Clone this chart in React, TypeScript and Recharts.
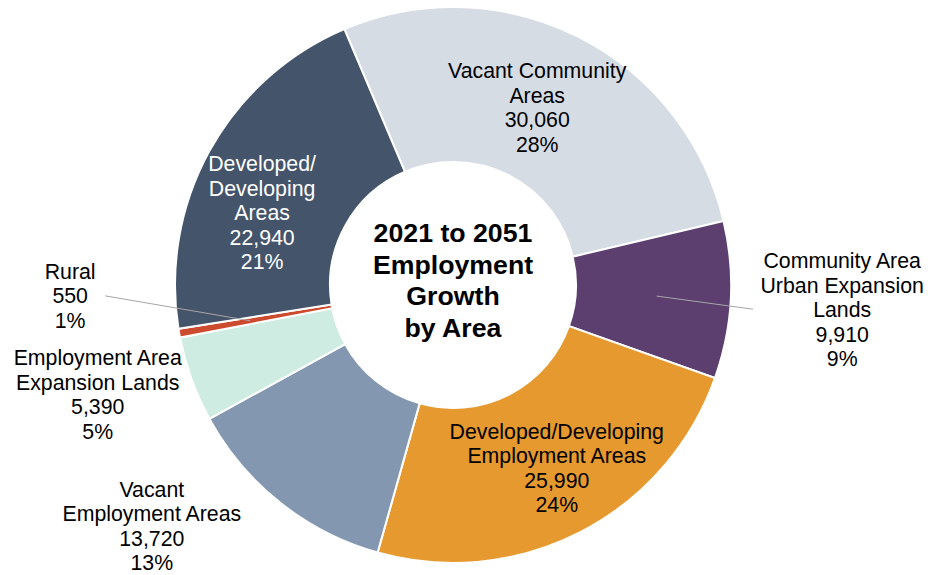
import * as React from "react";
import { PieChart, Pie, Cell } from "recharts";

// Slices in clockwise order starting at the top
const AREAS = [
  "Vacant Community Areas",
  "Community Area Urban Expansion Lands",
  "Developed/Developing Employment Areas",
  "Vacant Employment Areas",
  "Employment Area Expansion Lands",
  "Rural",
  "Developed/Developing Areas",
];
const JOBS = [30060, 9910, 25990, 13720, 5390, 550, 22940];
const PERCENTS = ["28%", "9%", "24%", "13%", "5%", "1%", "21%"];
const LABEL_LINES = [
  ["Vacant Community", "Areas"],
  ["Community Area", "Urban Expansion", "Lands"],
  ["Developed/Developing", "Employment Areas"],
  ["Vacant", "Employment Areas"],
  ["Employment Area", "Expansion Lands"],
  ["Rural"],
  ["Developed/", "Developing", "Areas"],
];
const TITLE_LINES = ["2021 to 2051", "Employment", "Growth", "by Area"];

const COLORS = ["#d6dce4", "#5c3f6e", "#e6992f", "#8497b0", "#cfece3", "#cc4a2e", "#44546a"];

// label placement: polar radius + angle shift from the slice mid angle
const LABEL_LAYOUT = [
  { r: 196, shift: 1.4, color: "#000" },
  { r: 390, shift: -0.6, color: "#000", line: { r1: 204, r2: 301, a2: -1.5 } },
  { r: 211, shift: 2.1, color: "#000" },
  { r: 386, shift: -12.8, color: "#000" },
  { r: 372, shift: -2.6, color: "#000" },
  { r: 383, shift: -8.3, color: "#000", line: { r1: 206, r2: 348, a2: -8.2 } },
  { r: 204, shift: 8.3, color: "#fff" },
];

const FONT = "'Liberation Sans', Arial, Helvetica, sans-serif";
const LINE_H = 24.5;
const RAD = Math.PI / 180;

const fmt = (v: number) => v.toLocaleString("en-US");

const polar = (cx: number, cy: number, r: number, angle: number) => ({
  x: cx + r * Math.cos(-angle * RAD),
  y: cy + r * Math.sin(-angle * RAD),
});

const Title = ({ cx, cy }: { cx: number; cy: number }) => {
  const lh = 31.8;
  const top = cy - 4.5 - ((TITLE_LINES.length - 1) * lh) / 2;
  return (
    <text textAnchor="middle" fontFamily={FONT} fontSize={26.7} fontWeight="bold" fill="#000">
      {TITLE_LINES.map((t, i) => (
        <tspan key={i} x={cx} y={top + i * lh} dominantBaseline="central">
          {t}
        </tspan>
      ))}
    </text>
  );
};

const renderLabel = (props: any) => {
  const { cx, cy, midAngle, index, value } = props;
  const layout = LABEL_LAYOUT[index];
  const pos = polar(cx, cy, layout.r, midAngle + layout.shift);
  const lines = [...LABEL_LINES[index], fmt(value), PERCENTS[index]];
  const top = pos.y - ((lines.length - 1) * LINE_H) / 2;
  let leader = null;
  if (layout.line) {
    const a = polar(cx, cy, layout.line.r1, midAngle);
    const b = polar(cx, cy, layout.line.r2, midAngle + layout.line.a2);
    leader = <line x1={a.x} y1={a.y} x2={b.x} y2={b.y} stroke="#a6a6a6" strokeWidth={1} />;
  }
  return (
    <g key={`lbl-${index}`}>
      {index === 0 && <Title cx={cx} cy={cy} />}
      {leader}
      <text
        x={pos.x}
        y={top}
        textAnchor="middle"
        dominantBaseline="central"
        fill={layout.color}
        fontFamily={FONT}
        fontSize={21.3}
      >
        {lines.map((t, i) => (
          <tspan key={i} x={pos.x} y={top + i * LINE_H} dominantBaseline="central">
            {t}
          </tspan>
        ))}
      </text>
    </g>
  );
};

export default function App() {
  const data = AREAS.map((name, i) => ({ name, value: JOBS[i] }));
  return (
    <div style={{ width: 928, height: 575, background: "#fff" }}>
      <style>{`body{margin:0}`}</style>
      <PieChart width={928} height={575} margin={{ top: 0, right: 0, bottom: 0, left: 0 }}>
        <Pie
          data={data}
          dataKey="value"
          nameKey="name"
          cx={453}
          cy={285}
          innerRadius={123}
          outerRadius={278}
          startAngle={113}
          endAngle={-247}
          stroke="#fff"
          strokeWidth={2}
          label={renderLabel}
          labelLine={false}
          isAnimationActive={false}
        >
          {data.map((d, i) => (
            <Cell key={d.name} fill={COLORS[i]} />
          ))}
        </Pie>
      </PieChart>
    </div>
  );
}
